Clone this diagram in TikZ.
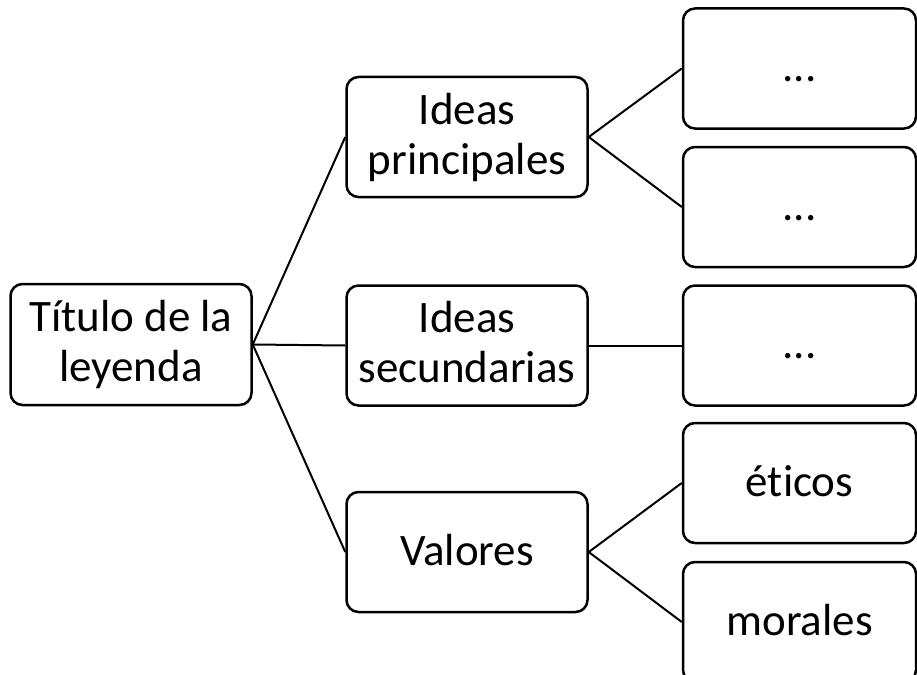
\documentclass[tikz,border=0pt]{standalone}
\usepackage{fontspec}
\setmainfont[RawFeature={-liga}]{Carlito}
\begin{document}
\begin{tikzpicture}[x=1pt,y=-1pt,
  box/.style={draw=black,line width=2.5pt,rounded corners=12pt,fill=white,
    minimum height=120pt,inner sep=0pt,align=center,
    font=\fontsize{45}{50}\selectfont},
  midbox/.style={box,minimum width=241pt},
  rightbox/.style={box,minimum width=233pt},
  oneline/.style={text height=26pt,text depth=0pt},
  twoline/.style={text height=74pt,text depth=0pt},
  link/.style={draw=black,line width=2pt}]
\useasboundingbox (0,0) rectangle (917,674);
\clip (0,0) rectangle (917,674);
\node[box,twoline,minimum width=241pt,minimum height=121pt] (root) at (131,344.5) {Título de la\\leyenda};
\node[midbox,twoline] (ip) at (467,137) {Ideas\\principales};
\node[midbox,twoline] (is) at (467,345.5) {Ideas\\secundarias};
\node[midbox,oneline] (va) at (467,552) {Valores};
\node[rightbox,oneline] (r1) at (799.5,68.5) {...};
\node[rightbox,oneline] (r2) at (799.5,207) {...};
\node[rightbox,oneline] (r3) at (799.5,345.5) {...};
\node[rightbox,oneline] (r4) at (799.5,483) {éticos};
\node[rightbox,oneline] (r5) at (799.5,622) {morales};
\draw[link] (root.east) -- (ip.west);
\draw[link] (root.east) -- (is.west);
\draw[link] (root.east) -- (va.west);
\draw[link] (ip.east) -- (r1.west);
\draw[link] (ip.east) -- (r2.west);
\draw[link] (is.east) -- (r3.west);
\draw[link] (va.east) -- (r4.west);
\draw[link] (va.east) -- (r5.west);
\end{tikzpicture}
\end{document}
